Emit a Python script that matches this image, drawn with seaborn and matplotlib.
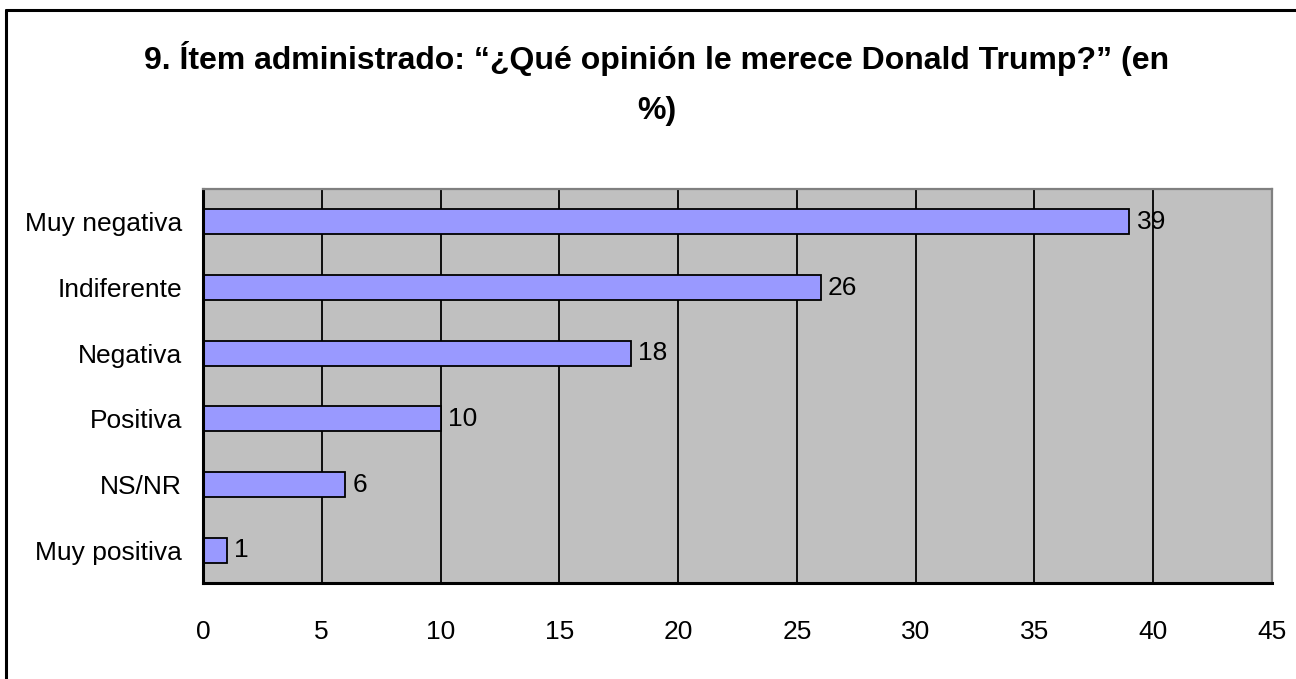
import numpy as np
import pandas as pd
import matplotlib.pyplot as plt
import seaborn as sns
from matplotlib.lines import Line2D

# datos del gráfico
categorias = ["Muy negativa", "Indiferente", "Negativa", "Positiva", "NS/NR", "Muy positiva"]
valores = [39, 26, 18, 10, 6, 1]
x_ticks = [0, 5, 10, 15, 20, 25, 30, 35, 40, 45]
titulo = "9. Ítem administrado: \u201c¿Qué opinión le merece Donald Trump?\u201d (en\n%)"

df = pd.DataFrame({"categoria": categorias, "valor": valores})

sns.set_style("white")
plt.rcParams['font.family'] = ['Liberation Sans', 'DejaVu Sans']
plt.rcParams['text.color'] = 'black'
plt.rcParams['xtick.color'] = 'black'
plt.rcParams['ytick.color'] = 'black'

fig = plt.figure(figsize=(12.96, 6.79), dpi=100)
ax = fig.add_axes([0.1566, 0.1414, 0.9815 - 0.1566, 0.7216 - 0.1414])
ax.set_facecolor('#C0C0C0')

sns.barplot(data=df, x="valor", y="categoria", orient="h", color="#9999FF",
            edgecolor="black", linewidth=1.3, width=0.38, saturation=1, ax=ax)

ax.set_xlim(0, 45)
ax.set_ylim(len(categorias) - 0.5, -0.5)
ax.set_xticks(x_ticks)
ax.set_xticklabels([str(t) for t in x_ticks], fontsize=19)
ax.set_xlabel("")
ax.set_ylabel("")

# líneas de cuadrícula verticales
for t in x_ticks[1:-1]:
    ax.axvline(t, color="black", linewidth=1.3, zorder=0.5)

# marcas del eje Y en los límites entre categorías
ax.set_yticks(np.arange(len(categorias)))
ax.set_yticklabels(categorias, fontsize=19)
ax.set_yticks(np.arange(len(categorias) + 1) - 0.5, minor=True)
ax.tick_params(axis='y', which='major', length=0, pad=15)
ax.tick_params(axis='y', which='minor', length=6, width=1.6, color='black', direction='out')
ax.tick_params(axis='x', which='major', length=8, width=1.6, color='black', direction='out', pad=19)

for side in ["left", "bottom"]:
    ax.spines[side].set_color("black")
    ax.spines[side].set_linewidth(2.2)
for side in ["top", "right"]:
    ax.spines[side].set_color("#808080")
    ax.spines[side].set_linewidth(1.6)

# etiquetas de valores
for i, v in enumerate(valores):
    ax.text(v + 0.3, i, str(v), va="center", ha="left", fontsize=19)

fig.text(657 / 1296, 1 - 41 / 679, titulo, ha="center", va="top", fontsize=23,
         fontweight="bold", linespacing=1.85)

# borde del gráfico
y_top = 1 - 10 / 679
x_left = 6 / 1296
fig.add_artist(Line2D([x_left, 1.0], [y_top, y_top], color="black", linewidth=2.2,
                      transform=fig.transFigure))
fig.add_artist(Line2D([x_left, x_left], [0.0, y_top], color="black", linewidth=2.2,
                      transform=fig.transFigure))

plt.savefig("out.png", dpi=100)
